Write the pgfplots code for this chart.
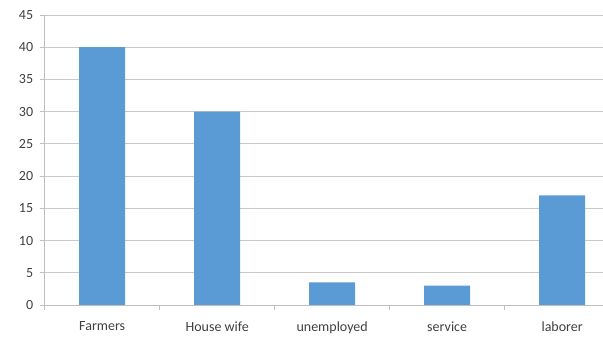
\documentclass[border=0pt]{standalone}
\usepackage{pgfplots}
\pgfplotsset{compat=1.18}
\usepackage{fontspec}
\setmainfont{Carlito}
\definecolor{barblue}{HTML}{5B9BD5}
\definecolor{gridgray}{HTML}{C8C8C8}
\definecolor{axgray}{HTML}{BFBFBF}
\definecolor{txt}{HTML}{404040}
\begin{document}
\begin{tikzpicture}
\begin{axis}[
  at={(0,0)}, anchor=south west,
  scale only axis, width=558.3pt, height=290pt,
  xmin=-0.5, xmax=4.355, ymin=0, ymax=45,
  ytick={0,5,...,45},
  xtick={-0.5,0.5,1.5,2.5,3.5},
  xticklabels={},
  extra x ticks={0,1,2,3,4},
  extra x tick labels={Farmers, House wife, unemployed, service, laborer},
  extra x tick style={major tick length=0pt, tick label style={yshift=-13pt}},
  axis x line=bottom, axis y line=left,
  axis line style={-, draw=axgray, line width=0.9pt},
  ymajorgrids, grid style={draw=gridgray, line width=0.9pt},
  tick align=outside, major tick length=5pt,
  tick style={draw=axgray, line width=0.9pt},
  ticklabel style={font=\fontsize{14}{16}\selectfont, text=txt},
  yticklabel style={xshift=-3pt},
  /pgf/number format/assume math mode=true,
  clip=false,
]
\addplot[ybar, bar width=46pt, fill=barblue, draw=none]
  coordinates {(0,40) (1,30) (2,3.5) (3,3) (4,17)};
\end{axis}
\pgfresetboundingbox
\useasboundingbox (-44.7pt,-32pt) rectangle (558.3pt,305pt);
\end{tikzpicture}
\end{document}
